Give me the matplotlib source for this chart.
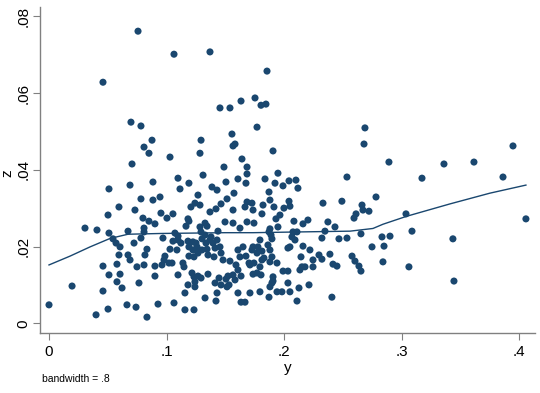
import matplotlib
matplotlib.use('Agg')
import matplotlib.pyplot as plt
import numpy as np

plt.rcParams['font.family'] = ['Liberation Sans', 'DejaVu Sans']

# scatter values (y, z)
y = [
    0.0757, 0.1063, 0.1369, 0.0459, 0.1854, 0.0697, 0.0782, 0.0876, 0.1454, 0.1539,
    0.1633, 0.1752, 0.1803, 0.1845, 0.1769, 0.1556, 0.1293, 0.2687, 0.2679, 0.0808,
    0.0850, 0.1029, 0.1284, 0.1565, 0.1582, 0.1905,
    0.0000, 0.0196, 0.0306, 0.0408, 0.0400, 0.0459, 0.0459, 0.0578, 0.0816,
    0.0706, 0.1097, 0.1310, 0.0884, 0.0689, 0.1190, 0.1114, 0.0510, 0.1386, 0.1429,
    0.1267, 0.0782, 0.0884, 0.0944, 0.1241, 0.1284, 0.1207, 0.0595, 0.0731, 0.1463,
    0.1369, 0.1420, 0.0502, 0.0952, 0.1054, 0.1003, 0.0799, 0.0850, 0.0901, 0.1182,
    0.1190, 0.1165, 0.1327, 0.1344, 0.0510, 0.0672, 0.0808, 0.0808, 0.1071, 0.1097,
    0.1284, 0.1293, 0.1327, 0.1378, 0.1437, 0.0969, 0.1054, 0.1097, 0.1122, 0.1182,
    0.1224, 0.1250, 0.1301, 0.1335, 0.1369, 0.1395, 0.1429, 0.0544, 0.0570, 0.0782,
    0.0723, 0.0833, 0.0604, 0.1029, 0.1088, 0.1190, 0.1224, 0.1259, 0.1301, 0.1344,
    0.1412, 0.1454, 0.1190, 0.1233, 0.1267, 0.1352, 0.1403, 0.1463, 0.0595, 0.0672,
    0.0689, 0.0748, 0.0808, 0.0986, 0.0978, 0.0961, 0.0901, 0.1020, 0.1046, 0.1139,
    0.1148, 0.1097, 0.0901, 0.0604, 0.0510, 0.0578, 0.0621, 0.0765, 0.1216, 0.1233,
    0.1267, 0.1293, 0.1352, 0.1446, 0.1412, 0.1463, 0.1241, 0.1182, 0.1156, 0.1241,
    0.1429, 0.1327, 0.1420, 0.0663, 0.0740, 0.0927, 0.1063, 0.0502, 0.0833, 0.1156,
    0.1233,
    0.1641, 0.1684, 0.1684, 0.1675, 0.1488, 0.1607, 0.1505, 0.1837, 0.1947, 0.1922,
    0.1990, 0.2041, 0.2100, 0.2117, 0.1871, 0.1879, 0.1820, 0.1913, 0.2041, 0.2049,
    0.1998, 0.1964, 0.1930, 0.1947, 0.1573, 0.1514, 0.1684, 0.1726, 0.1667, 0.1565,
    0.1735, 0.1811, 0.1743, 0.1684, 0.1565, 0.1497, 0.1624, 0.1879, 0.1888, 0.2083,
    0.2160, 0.2202, 0.2330, 0.2491, 0.2534, 0.2372, 0.2432, 0.2347, 0.2321, 0.2466,
    0.2534, 0.2075, 0.2109, 0.2066, 0.2092, 0.2049, 0.2032, 0.2160, 0.2219, 0.2143,
    0.2296, 0.2321, 0.2245, 0.2389, 0.2415, 0.2449, 0.2151, 0.2177, 0.2245, 0.2134,
    0.1871, 0.1896, 0.1862, 0.1879, 0.1896, 0.1794, 0.1777, 0.1735, 0.1726, 0.1650,
    0.1607, 0.1624, 0.1675, 0.1769, 0.1811, 0.1811, 0.1828, 0.1743, 0.1701, 0.1794,
    0.1769, 0.1803, 0.1735, 0.1709, 0.1879, 0.1939, 0.1539, 0.1480, 0.1590, 0.1607,
    0.1565, 0.1633, 0.1522, 0.1505, 0.1531, 0.1514, 0.1582, 0.1607, 0.1709, 0.1794,
    0.1871, 0.1896, 0.1905, 0.1905, 0.1879, 0.1939, 0.1981, 0.2049, 0.2032, 0.1990,
    0.2032, 0.2109, 0.2126, 0.2211, 0.1633, 0.1667, 0.2406,
    0.2891, 0.3172, 0.3359, 0.3614, 0.3946, 0.3861, 0.2781, 0.2662, 0.2670, 0.2721,
    0.2611, 0.2594, 0.3036, 0.3087, 0.4056, 0.2653, 0.2832, 0.2900, 0.3435, 0.2747,
    0.2849, 0.2577, 0.2602, 0.2636, 0.2653, 0.2840, 0.3061, 0.3444,
]
z = [
    0.0761, 0.0701, 0.0707, 0.0628, 0.0657, 0.0524, 0.0514, 0.0477, 0.0561, 0.0561,
    0.0579, 0.0587, 0.0568, 0.0571, 0.0511, 0.0493, 0.0477, 0.0509, 0.0467, 0.0459,
    0.0443, 0.0433, 0.0443, 0.0462, 0.0467, 0.0449,
    0.0048, 0.0097, 0.0248, 0.0243, 0.0022, 0.0149, 0.0084, 0.0154, 0.0178,
    0.0415, 0.0378, 0.0386, 0.0368, 0.0360, 0.0365, 0.0350, 0.0350, 0.0355, 0.0347,
    0.0334, 0.0324, 0.0321, 0.0329, 0.0313, 0.0308, 0.0303, 0.0303, 0.0295, 0.0311,
    0.0290, 0.0298, 0.0282, 0.0287, 0.0285, 0.0274, 0.0274, 0.0266, 0.0259, 0.0272,
    0.0266, 0.0253, 0.0261, 0.0253, 0.0235, 0.0240, 0.0248, 0.0238, 0.0235, 0.0227,
    0.0251, 0.0238, 0.0230, 0.0225, 0.0240, 0.0222, 0.0214, 0.0217, 0.0209, 0.0214,
    0.0212, 0.0209, 0.0220, 0.0209, 0.0217, 0.0209, 0.0217, 0.0220, 0.0209, 0.0222,
    0.0209, 0.0193, 0.0199, 0.0193, 0.0191, 0.0199, 0.0191, 0.0199, 0.0191, 0.0193,
    0.0196, 0.0199, 0.0175, 0.0173, 0.0183, 0.0178, 0.0173, 0.0183, 0.0178, 0.0178,
    0.0165, 0.0147, 0.0152, 0.0175, 0.0165, 0.0152, 0.0149, 0.0157, 0.0157, 0.0157,
    0.0147, 0.0126, 0.0123, 0.0128, 0.0126, 0.0108, 0.0092, 0.0105, 0.0131, 0.0121,
    0.0123, 0.0118, 0.0128, 0.0118, 0.0105, 0.0100, 0.0108, 0.0100, 0.0079, 0.0095,
    0.0079, 0.0066, 0.0058, 0.0048, 0.0042, 0.0050, 0.0053, 0.0037, 0.0016, 0.0035,
    0.0035,
    0.0428, 0.0407, 0.0389, 0.0365, 0.0407, 0.0376, 0.0368, 0.0376, 0.0391, 0.0365,
    0.0358, 0.0371, 0.0373, 0.0352, 0.0342, 0.0321, 0.0308, 0.0303, 0.0318, 0.0305,
    0.0300, 0.0282, 0.0272, 0.0251, 0.0339, 0.0324, 0.0316, 0.0313, 0.0303, 0.0295,
    0.0295, 0.0285, 0.0261, 0.0264, 0.0261, 0.0264, 0.0248, 0.0246, 0.0230, 0.0266,
    0.0259, 0.0269, 0.0313, 0.0318, 0.0381, 0.0264, 0.0251, 0.0240, 0.0222, 0.0220,
    0.0222, 0.0238, 0.0238, 0.0225, 0.0217, 0.0199, 0.0196, 0.0201, 0.0191, 0.0173,
    0.0178, 0.0167, 0.0165, 0.0180, 0.0154, 0.0149, 0.0147, 0.0147, 0.0147, 0.0139,
    0.0238, 0.0220, 0.0204, 0.0191, 0.0173, 0.0217, 0.0199, 0.0199, 0.0191, 0.0199,
    0.0191, 0.0173, 0.0175, 0.0183, 0.0188, 0.0165, 0.0170, 0.0157, 0.0157, 0.0147,
    0.0131, 0.0126, 0.0128, 0.0152, 0.0160, 0.0157, 0.0162, 0.0165, 0.0152, 0.0139,
    0.0126, 0.0123, 0.0123, 0.0115, 0.0100, 0.0095, 0.0113, 0.0079, 0.0079, 0.0082,
    0.0068, 0.0105, 0.0121, 0.0110, 0.0095, 0.0082, 0.0082, 0.0082, 0.0105, 0.0136,
    0.0136, 0.0058, 0.0092, 0.0100, 0.0055, 0.0055, 0.0068,
    0.0420, 0.0378, 0.0415, 0.0420, 0.0462, 0.0381, 0.0329, 0.0308, 0.0295, 0.0292,
    0.0285, 0.0274, 0.0285, 0.0240, 0.0272, 0.0233, 0.0225, 0.0227, 0.0220, 0.0199,
    0.0201, 0.0175, 0.0162, 0.0149, 0.0136, 0.0160, 0.0147, 0.0110,
]

# lowess curve (bandwidth .8)
smooth_y = [0.0, 0.0179, 0.0349, 0.0519, 0.0672, 0.096, 0.1497, 0.1735, 0.2134,
            0.256, 0.2755, 0.284, 0.3044, 0.341, 0.375, 0.4056]
smooth_z = [0.0152, 0.0175, 0.0199, 0.0221, 0.0232, 0.0234, 0.0236, 0.0236, 0.0238,
            0.0240, 0.0247, 0.0258, 0.0279, 0.0311, 0.0339, 0.0360]

xticks = [0, 0.1, 0.2, 0.3, 0.4]
xticklabels = ['0', '.1', '.2', '.3', '.4']
yticks = [0, 0.02, 0.04, 0.06, 0.08]
yticklabels = ['0', '.02', '.04', '.06', '.08']

navy = '#1a476f'

fig = plt.figure(figsize=(5.4, 3.93), dpi=100)
ax = fig.add_axes([0.0741, 0.1527, 0.9166, 0.8295])

ax.scatter(y, z, s=26, color=navy, edgecolors='none', zorder=2)
ax.plot(smooth_y, smooth_z, color=navy, lw=1.0, zorder=3)

ax.set_xlim(-0.00765, 0.4133)
ax.set_ylim(-0.00253, 0.0824)

for s in ['top', 'right']:
    ax.spines[s].set_visible(False)
for s in ['left', 'bottom']:
    ax.spines[s].set_color('#808080')
    ax.spines[s].set_linewidth(1.0)

ax.set_xticks(xticks)
ax.set_xticklabels(xticklabels)
ax.set_yticks(yticks)
ax.set_yticklabels(yticklabels, rotation=90, va='center')
ax.tick_params(axis='both', length=5, width=0.8, color='#808080',
               labelsize=11, pad=4)
ax.tick_params(axis='y', pad=2)

ax.set_xlabel('y', fontsize=11, labelpad=1)
ax.set_ylabel('z', fontsize=11, va='center')
ax.yaxis.set_label_coords(-0.066, 0.49)

fig.text(0.078, 0.028, 'bandwidth = .8', fontsize=7.5)

fig.savefig('out.png', dpi=100, facecolor='white')
